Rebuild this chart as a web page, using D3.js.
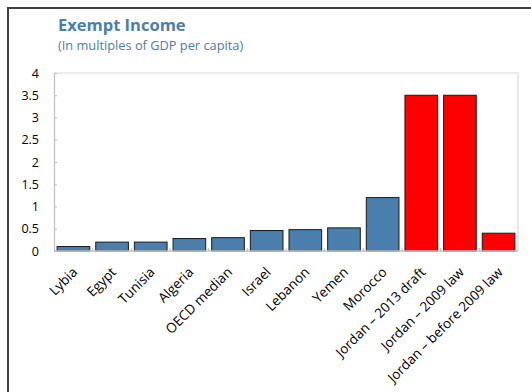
<!DOCTYPE html>
<html>
<head>
<meta charset="utf-8">
<script src="https://cdn.jsdelivr.net/npm/d3@7/dist/d3.min.js"></script>
<style>
  html, body { margin: 0; padding: 0; background: #fff; }
  svg { display: block; }
  text { font-family: "Open Sans", "Noto Sans", sans-serif; }
</style>
</head>
<body>
<svg id="chart" width="531" height="392"></svg>
<script>
// Exempt income thresholds, in multiples of GDP per capita
const categories = [
  "Lybia", "Egypt", "Tunisia", "Algeria", "OECD median", "Israel",
  "Lebanon", "Yemen", "Morocco", "Jordan – 2013 draft",
  "Jordan – 2009 law", "Jordan – before 2009 law"
];
const values = [0.1, 0.2, 0.2, 0.28, 0.3, 0.46, 0.48, 0.52, 1.2, 3.5, 3.5, 0.4];
const highlighted = [false, false, false, false, false, false, false, false, false, true, true, true];
const yTicks = [0, 0.5, 1, 1.5, 2, 2.5, 3, 3.5, 4];
const yTickLabels = ["0", "0.5", "1", "1.5", "2", "2.5", "3", "3.5", "4"];

const svg = d3.select("#chart");

// outer frame
svg.append("path")
  .attr("d", "M8,392 V8 H531")
  .attr("fill", "none")
  .attr("stroke", "#404040")
  .attr("stroke-width", 2);

// titles
svg.append("text")
  .attr("x", 58).attr("y", 31)
  .attr("fill", "#4a7eae")
  .attr("font-size", 16.5).attr("font-weight", "bold")
  .text("Exempt Income");
svg.append("text")
  .attr("x", 58).attr("y", 50)
  .attr("fill", "#4a7eae")
  .attr("font-size", 12.8)
  .text("(In multiples of GDP per capita)");

const plot = { left: 54, right: 518, top: 73, bottom: 251 };

const x = d3.scaleBand()
  .domain(categories)
  .range([plot.left, plot.right])
  .paddingInner(0.155)
  .paddingOuter(0.08);

const xBands = d3.scaleBand()
  .domain(categories)
  .range([plot.left, plot.right]);

const y = d3.scaleLinear()
  .domain([0, 4])
  .range([plot.bottom, plot.top]);

// plot frame (top and right edges)
svg.append("path")
  .attr("d", `M${plot.left},${plot.top} H${plot.right} V${plot.bottom}`)
  .attr("fill", "none")
  .attr("stroke", "#d9d9d9")
  .attr("stroke-width", 1.2);

// y axis, ticks pointing into the plot
const yAxis = svg.append("g")
  .attr("transform", `translate(${plot.left},0)`)
  .call(d3.axisLeft(y)
    .tickValues(yTicks)
    .tickFormat((d, i) => yTickLabels[i])
    .tickSizeInner(-3)
    .tickSizeOuter(0)
    .tickPadding(15));
yAxis.select(".domain").attr("stroke", "#bfbfbf").attr("stroke-width", 1.2);
yAxis.selectAll(".tick line").attr("stroke", "#bfbfbf");
yAxis.selectAll(".tick text")
  .attr("font-size", 12.5)
  .attr("fill", "#000")
  .style("font-family", "'Open Sans', 'Noto Sans', sans-serif");

// bars
svg.append("g")
  .selectAll("rect")
  .data(categories)
  .join("rect")
  .attr("x", d => x(d))
  .attr("y", (d, i) => y(values[i]))
  .attr("width", x.bandwidth())
  .attr("height", (d, i) => y(0) - y(values[i]))
  .attr("fill", (d, i) => highlighted[i] ? "#ff0000" : "#4a7fad")
  .attr("stroke", "#1a1a1a")
  .attr("stroke-width", 1);

// x axis line with tick marks at band boundaries
svg.append("line")
  .attr("x1", plot.left).attr("x2", plot.right)
  .attr("y1", plot.bottom).attr("y2", plot.bottom)
  .attr("stroke", "#bfbfbf").attr("stroke-width", 1.5);
svg.append("g")
  .selectAll("line")
  .data(categories.slice(1))
  .join("line")
  .attr("x1", d => xBands(d)).attr("x2", d => xBands(d))
  .attr("y1", plot.bottom).attr("y2", plot.bottom - 3)
  .attr("stroke", "#bfbfbf");

// category labels
svg.append("g")
  .selectAll("text")
  .data(categories)
  .join("text")
  .attr("transform", d => `translate(${xBands(d) + xBands.bandwidth() / 2 + 5},${plot.bottom + 22}) rotate(-45)`)
  .attr("text-anchor", "end")
  .attr("font-size", 13.5)
  .attr("fill", "#000")
  .text(d => d);
</script>
</body>
</html>
